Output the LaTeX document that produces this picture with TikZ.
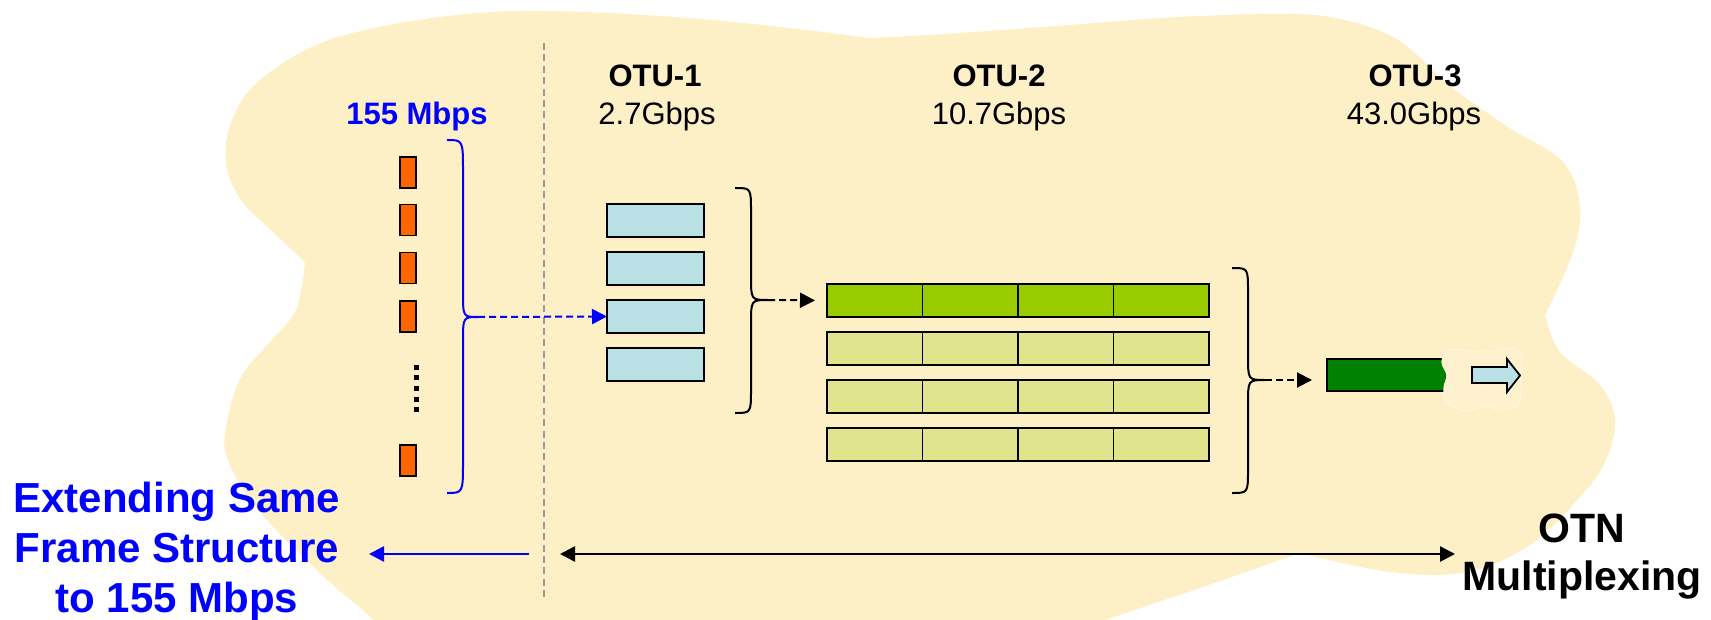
\documentclass[tikz,border=0pt]{standalone}
\usepackage{fontspec}
\setmainfont{Liberation Sans}
\usetikzlibrary{arrows.meta}
\definecolor{blobc}{RGB}{253,240,198}
\definecolor{orng}{RGB}{255,102,0}
\definecolor{lblue}{RGB}{185,224,228}
\definecolor{bgreen}{RGB}{153,204,0}
\definecolor{pgreen}{RGB}{224,228,140}
\definecolor{dgreen}{RGB}{0,128,0}
\definecolor{dgray}{RGB}{153,153,153}
\tikzset{
  box/.style={draw=black, line width=0.9pt, inner sep=0pt, outer sep=0pt},
  orect/.style={box, fill=orng, minimum width=8pt, minimum height=15.5pt},
  brect/.style={box, fill=lblue, minimum width=48.5pt, minimum height=16.5pt},
  gcell/.style={box, fill=pgreen, minimum width=47.75pt, minimum height=16.5pt},
  dgrect/.style={box, fill=dgreen, minimum width=61.5pt, minimum height=16pt},
  bracestyle/.style={line width=1pt},
  tip/.style={-{Triangle[length=7.5pt,width=7.5pt]}},
  dasharr/.style={tip, line width=1pt, dash pattern=on 3.5pt off 2pt},
  solidarr/.style={line width=1.3pt},
  toplbl/.style={font=\fontsize{15.5}{18}\selectfont, anchor=base, inner sep=0pt},
  biglbl/.style={font=\fontsize{21}{25}\selectfont\bfseries, align=center, anchor=base, inner sep=0pt}
}
\begin{document}
\begin{tikzpicture}[x=0.5pt,y=-0.5pt]
\useasboundingbox (0,0) rectangle (1711,620);
% cloud background
\begin{scope}
\clip (0,0) rectangle (1711,620);
\fill[blobc]
  plot[smooth, tension=0.6] coordinates {(305,262) (274,233) (241,200) (226,163) (232,120) (260,80) (329,40) (440,17) (548,11) (713,20) (870,38)}
  -- plot[smooth, tension=0.6] coordinates {(870,38) (960,33) (1069,25) (1179,17) (1289,14) (1344,20) (1398,40) (1453,88) (1508,127) (1563,162) (1580,207) (1572,255) (1545,315)}
  -- plot[smooth, tension=0.6] coordinates {(1545,315) (1560,352) (1600,385) (1615,420) (1605,462) (1580,497) (1530,545) (1467,572) (1390,572) (1300,553)}
  -- plot[smooth, tension=0.6] coordinates {(1300,553) (1200,588) (1100,622) (1000,660)}
  -- (400,660)
  -- plot[smooth, tension=0.6] coordinates {(400,660) (373,620) (324,577) (258,510) (228,460) (226,427) (241,377) (269,343) (296,310) (305,262)}
  -- cycle;
\end{scope}

% vertical separator
\draw[dgray, line width=1pt, dash pattern=on 3.5pt off 2.2pt] (544,43) coordinate (sepT) -- (544,597) coordinate (sepB);

% top labels
\node[toplbl, text=blue, font=\fontsize{15.5}{18}\selectfont\bfseries] (l155) at (417,125) {155 Mbps};
\node[toplbl, font=\fontsize{15.5}{18}\selectfont\bfseries] (otu1) at (655,87) {OTU-1};
\node[toplbl] (otu1r) at (657,125) {2.7Gbps};
\node[toplbl, font=\fontsize{15.5}{18}\selectfont\bfseries] (otu2) at (999,87) {OTU-2};
\node[toplbl] (otu2r) at (999,125) {10.7Gbps};
\node[toplbl, font=\fontsize{15.5}{18}\selectfont\bfseries] (otu3) at (1415,87) {OTU-3};
\node[toplbl] (otu3r) at (1414,125) {43.0Gbps};

% 155 Mbps frames
\node[orect] (o1) at (408,172.5) {};
\node[orect] (o2) at (408,220) {};
\node[orect] (o3) at (408,268) {};
\node[orect] (o4) at (408,316.5) {};
\node[orect] (o5) at (408,460.5) {};
\draw[line width=2.5pt, dash pattern=on 2.5pt off 2.8pt] (416,364.8) coordinate (dotT) -- (416,412) coordinate (dotB);

% blue brace
\draw[blue, bracestyle] (447,140) .. controls (463,140) .. (463,172) -- (463,292)
  .. controls (463,317) .. (478,317) coordinate (bt1)
  .. controls (463,317) .. (463,342) -- (463,461) .. controls (463,493) .. (447,493);

% OTU-1 frames
\node[brect] (c1) at (655.5,220.5) {};
\node[brect] (c2) at (655.5,268.5) {};
\node[brect] (c3) at (655.5,316.5) {};
\node[brect] (c4) at (655.5,364.5) {};
\draw[blue, dasharr] (bt1) -- (c3.west);

% brace 1
\draw[bracestyle] (735,188) .. controls (751,188) .. (751,212) -- (751,276)
  .. controls (751,300) .. (768,300) coordinate (bt2)
  .. controls (751,300) .. (751,324) -- (751,389) .. controls (751,413) .. (735,413);

% OTU-2 frames
\foreach \r/\yy in {1/300.5,2/348.5,3/396.5,4/444.5}{
  \foreach \c/\xx in {1/874.75,2/970.25,3/1065.75,4/1161.25}{
    \node[gcell] (g\r\c) at (\xx,\yy) {};
  }
}
\foreach \c in {1,2,3,4}{\path (g1\c) node[gcell, fill=bgreen] {};}
\draw[dasharr, shorten >=6pt] (bt2) -- (g11.west);

% brace 2
\draw[bracestyle] (1232,268) .. controls (1248,268) .. (1248,292) -- (1248,356)
  .. controls (1248,380) .. (1265,380) coordinate (bt3)
  .. controls (1248,380) .. (1248,404) -- (1248,469) .. controls (1248,493) .. (1232,493);

% OTU-3 frame
\node[dgrect] (d1) at (1388.5,375) {};
\draw[dasharr, shorten >=7.5pt] (bt3) -- (bt3 -| d1.west);

% small cloud patch with block arrow
\filldraw[fill=blobc!88!white, draw=blobc!55!white, line width=0.6pt] plot[smooth cycle, tension=0.6] coordinates {(1450,350) (1485,352) (1518,350) (1521,380) (1518,405) (1500,410) (1485,406) (1465,411) (1447,402) (1444,388) (1447,375) (1442,362)};
\draw[line width=0.9pt, fill=lblue] (1472,367) -- (1507,367) -- (1507,359) -- (1520,375.5) -- (1507,392) -- (1507,383) -- (1472,383) -- cycle;

% bottom arrows
\coordinate (dl) at (560,554);
\coordinate (dr) at (1455,554);
\draw[solidarr, {Triangle[length=7.5pt,width=7.5pt]}-{Triangle[length=7.5pt,width=7.5pt]}] (dl) -- (dr);
\coordinate (bl0) at (529,554);
\coordinate (bl1) at (369,554);
\draw[solidarr, blue, tip] (bl0) -- (bl1);

% bottom labels
\node[biglbl, text=blue] (ext) at (177,612) {Extending Same\\Frame Structure\\to 155 Mbps};
\node[biglbl, font=\fontsize{20.5}{24}\selectfont\bfseries] (otn) at (1582,590) {OTN\\Multiplexing};
\end{tikzpicture}
\end{document}
